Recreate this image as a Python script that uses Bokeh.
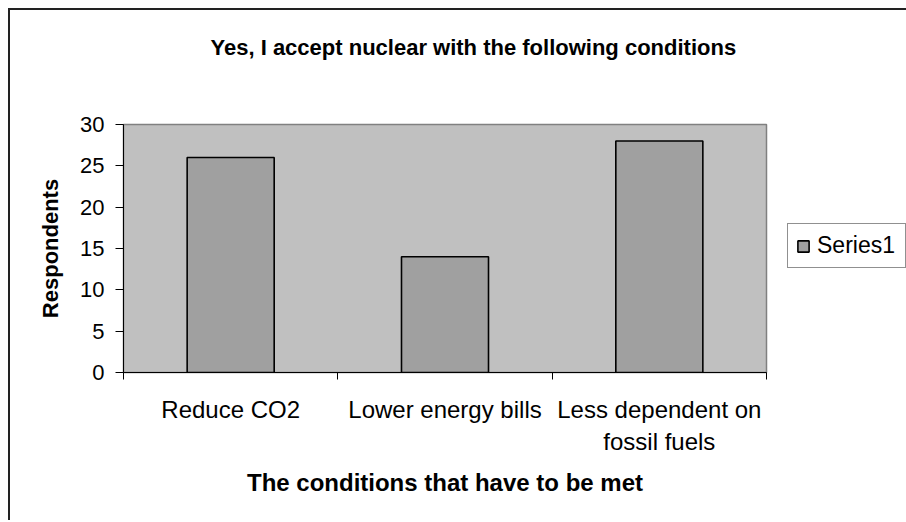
from bokeh.plotting import figure
from bokeh.models import FixedTicker, Legend, LegendItem, Range1d, ColumnDataSource, Title
from bokeh.embed import file_html
from bokeh.resources import INLINE

# data
categories = ["Reduce CO2", "Lower energy bills", "Less dependent on\nfossil fuels"]
respondents = [26, 14, 28]
y_ticks = [0, 5, 10, 15, 20, 25, 30]
series_name = "Series1"
title_text = "Yes, I accept nuclear with the following conditions"
x_title = "The conditions that have to be met"
y_title = "Respondents"

positions = [i + 0.5 for i in range(len(categories))]
src = ColumnDataSource(dict(x=positions, top=respondents))

FONT = "Liberation Sans"

p = figure(frame_width=643, frame_height=248, output_backend="svg", toolbar_location=None,
           x_range=Range1d(0, len(categories)), y_range=Range1d(0, 30),
           min_border_left=113, min_border_right=138, min_border_top=114,
           min_border_bottom=148,
           styles={"border-left": "2px solid #222222", "border-top": "2px solid #222222",
                   "margin-left": "8px", "margin-top": "8px"})

# real title (outermost) and a spacer title between it and the frame
p.title.text = title_text
p.title.text_font = FONT
p.title.text_font_size = "22px"
p.title.text_font_style = "bold"
p.title.text_color = "black"
p.title.align = "left"
p.title.offset = 87
p.title.standoff = 20
p.add_layout(Title(text=" ", text_font_size="1px", standoff=52), "above")

p.background_fill_color = "#C0C0C0"
p.border_fill_color = "white"
p.outline_line_color = "#808080"
p.outline_line_width = 1.5
p.xgrid.visible = False
p.ygrid.visible = False

r = p.vbar(x="x", top="top", width=0.406, bottom=0, source=src,
           fill_color="#A0A0A0", line_color="black", line_width=1.6)

# x axis
xa = p.xaxis[0]
xa.ticker = FixedTicker(ticks=positions, minor_ticks=list(range(len(categories) + 1)))
xa.major_label_overrides = {pos: lab for pos, lab in zip(positions, categories)}
xa.major_tick_line_color = None
xa.major_tick_out = 0
xa.major_tick_in = 0
xa.minor_tick_out = 7
xa.minor_tick_in = 0
xa.minor_tick_line_color = "black"
xa.axis_line_color = "black"
xa.major_label_text_font = FONT
xa.major_label_text_font_size = "24px"
xa.major_label_text_color = "black"
xa.major_label_standoff = 16
xa.axis_label = x_title
xa.axis_label_text_font = FONT
xa.axis_label_text_font_size = "24px"
xa.axis_label_text_font_style = "bold"
xa.axis_label_text_color = "black"
xa.axis_label_standoff = 11

# y axis
ya = p.yaxis[0]
ya.ticker = FixedTicker(ticks=y_ticks)
ya.minor_tick_line_color = None
ya.major_tick_out = 8
ya.major_tick_in = 0
ya.axis_line_color = "black"
ya.major_tick_line_color = "black"
ya.major_label_text_font = FONT
ya.major_label_text_font_size = "22px"
ya.major_label_text_color = "black"
ya.major_label_standoff = 11
ya.axis_label = y_title
ya.axis_label_text_font = FONT
ya.axis_label_text_font_size = "22px"
ya.axis_label_text_font_style = "bold"
ya.axis_label_text_color = "black"
ya.axis_label_standoff = 14

legend = Legend(items=[LegendItem(label=series_name, renderers=[r])], location=(21, 104))
legend.margin = 0
legend.padding = 8
legend.spacing = 0
legend.glyph_width = 14
legend.glyph_height = 14
legend.label_standoff = 7
legend.label_width = 80
legend.label_text_font = FONT
legend.label_text_font_size = "23px"
legend.label_text_color = "black"
legend.border_line_color = "#222222"
legend.border_line_width = 1
legend.background_fill_color = "white"
p.add_layout(legend, "right")

open("out.html", "w").write(file_html(p, INLINE))
